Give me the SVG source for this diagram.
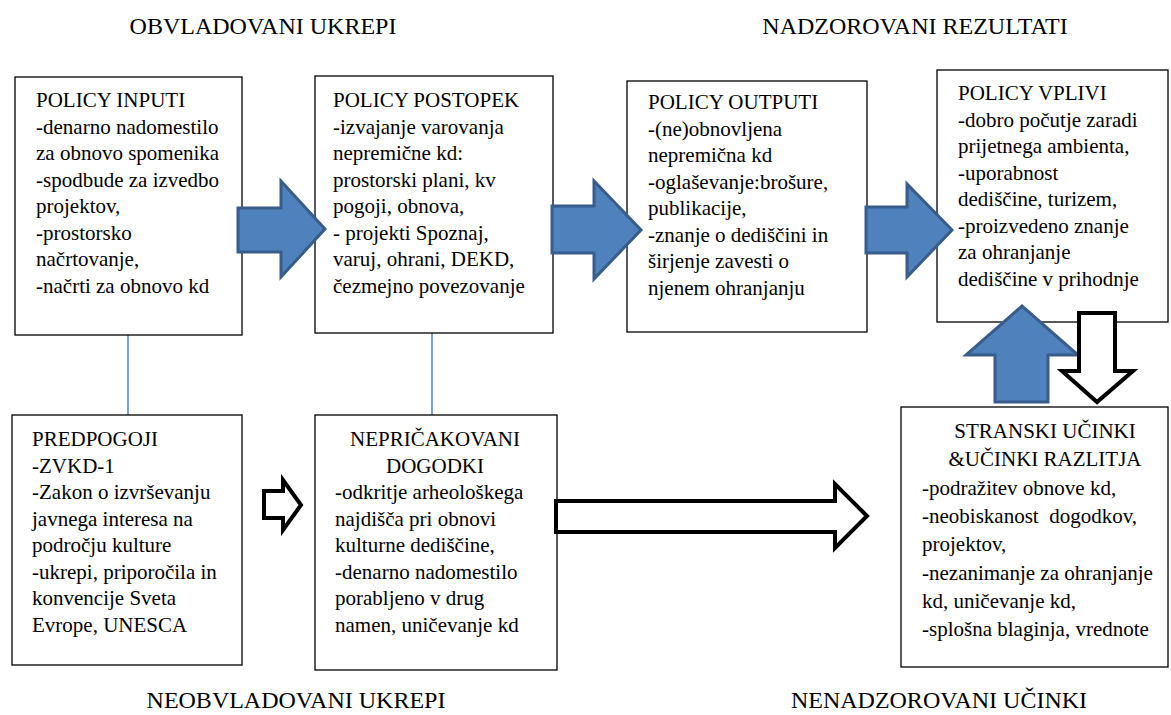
<svg xmlns="http://www.w3.org/2000/svg" width="1171" height="715" viewBox="0 0 1171 715">
<style>
.box{fill:#fff;stroke:#000;stroke-width:1.3}
.t{font-family:"Liberation Serif","Times New Roman",serif;font-size:21px;fill:#000}
.ttl{font-family:"Liberation Serif","Times New Roman",serif;font-size:24px;fill:#000;text-anchor:middle}
.blue{fill:#4F81BD;stroke:#385D8A;stroke-width:3;stroke-linejoin:miter}
.white{fill:#fff;stroke:#000;stroke-width:4;stroke-linejoin:miter}
.link{stroke:#4F81BD;stroke-width:1.5;fill:none}
.c{text-anchor:middle}
</style>
<rect width="1171" height="715" fill="#fff"/>
<g id="titles">
<text class="ttl" x="263" y="34">OBVLADOVANI UKREPI</text>
<text class="ttl" x="915" y="34">NADZOROVANI REZULTATI</text>
<text class="ttl" x="296" y="708">NEOBVLADOVANI UKREPI</text>
<text class="ttl" x="939" y="708">NENADZOROVANI UČINKI</text>
</g>
<g id="connectors">
<line class="link" x1="128" y1="307" x2="128" y2="415"/>
<line class="link" x1="432" y1="307" x2="432" y2="415"/>
</g>
<g id="inputi">
<rect class="box" x="15" y="77" width="227" height="258"/>
<text class="t" x="36" y="107">POLICY INPUTI<tspan x="36" dy="26.5">-denarno nadomestilo</tspan><tspan x="36" dy="26.5">za obnovo spomenika</tspan><tspan x="36" dy="26.5">-spodbude za izvedbo</tspan><tspan x="36" dy="26.5">projektov,</tspan><tspan x="36" dy="26.5">-prostorsko</tspan><tspan x="36" dy="26.5">načrtovanje,</tspan><tspan x="36" dy="26.5">-načrti za obnovo kd</tspan></text>
</g>
<g id="postopek">
<rect class="box" x="315" y="76" width="238" height="257"/>
<text class="t" x="333" y="107">POLICY POSTOPEK<tspan x="333" dy="26.5">-izvajanje varovanja</tspan><tspan x="333" dy="26.5">nepremične kd:</tspan><tspan x="333" dy="26.5">prostorski plani, kv</tspan><tspan x="333" dy="26.5">pogoji, obnova,</tspan><tspan x="333" dy="26.5">- projekti Spoznaj,</tspan><tspan x="333" dy="26.5">varuj, ohrani, DEKD,</tspan><tspan x="333" dy="26.5">čezmejno povezovanje</tspan></text>
</g>
<g id="outputi">
<rect class="box" x="627" y="81" width="240" height="251"/>
<text class="t" x="648" y="109">POLICY OUTPUTI<tspan x="648" dy="26.5">-(ne)obnovljena</tspan><tspan x="648" dy="26.5">nepremična kd</tspan><tspan x="648" dy="26.5">-oglaševanje:brošure,</tspan><tspan x="648" dy="26.5">publikacije,</tspan><tspan x="648" dy="26.5">-znanje o dediščini in</tspan><tspan x="648" dy="26.5">širjenje zavesti o</tspan><tspan x="648" dy="26.5">njenem ohranjanju</tspan></text>
</g>
<g id="vplivi">
<rect class="box" x="937" y="70" width="231" height="252"/>
<text class="t" x="958" y="100">POLICY VPLIVI<tspan x="958" dy="26.5">-dobro počutje zaradi</tspan><tspan x="958" dy="26.5">prijetnega ambienta,</tspan><tspan x="958" dy="26.5">-uporabnost</tspan><tspan x="958" dy="26.5">dediščine, turizem,</tspan><tspan x="958" dy="26.5">-proizvedeno znanje</tspan><tspan x="958" dy="26.5">za ohranjanje</tspan><tspan x="958" dy="26.5">dediščine v prihodnje</tspan></text>
</g>
<g id="predpogoji">
<rect class="box" x="12" y="415" width="230" height="250"/>
<text class="t" x="32" y="446">PREDPOGOJI<tspan x="32" dy="26.5">-ZVKD-1</tspan><tspan x="32" dy="26.5">-Zakon o izvrševanju</tspan><tspan x="32" dy="26.5">javnega interesa na</tspan><tspan x="32" dy="26.5">področju kulture</tspan><tspan x="32" dy="26.5">-ukrepi, priporočila in</tspan><tspan x="32" dy="26.5">konvencije Sveta</tspan><tspan x="32" dy="26.5">Evrope, UNESCA</tspan></text>
</g>
<g id="nepricakovani">
<rect class="box" x="315" y="415" width="242" height="255"/>
<text class="t" x="335" y="446"><tspan class="c" x="435">NEPRIČAKOVANI</tspan><tspan class="c" x="435" dy="26.5">DOGODKI</tspan><tspan x="335" dy="26.5">-odkritje arheološkega</tspan><tspan x="335" dy="26.5">najdišča pri obnovi</tspan><tspan x="335" dy="26.5">kulturne dediščine,</tspan><tspan x="335" dy="26.5">-denarno nadomestilo</tspan><tspan x="335" dy="26.5">porabljeno v drug</tspan><tspan x="335" dy="26.5">namen, uničevanje kd</tspan></text>
</g>
<g id="stranski">
<rect class="box" x="901" y="407" width="267" height="260"/>
<text class="t" x="922" y="438"><tspan class="c" x="1045">STRANSKI UČINKI</tspan><tspan class="c" x="1045" dy="28.3">&amp;UČINKI RAZLITJA</tspan><tspan x="922" dy="28.3">-podražitev obnove kd,</tspan><tspan x="922" dy="28.3">-neobiskanost&#160; dogodkov,</tspan><tspan x="922" dy="28.3">projektov,</tspan><tspan x="922" dy="28.3">-nezanimanje za ohranjanje</tspan><tspan x="922" dy="28.3">kd, uničevanje kd,</tspan><tspan x="922" dy="28.3">-splošna blaginja, vrednote</tspan></text>
</g>
<g id="arrows">
<polygon class="blue" points="238,208 281,208 281,181 325,229 281,277 281,252 238,252"/>
<polygon class="blue" points="552,206 594,206 594,181 641,230 594,279 594,253 552,253"/>
<polygon class="blue" points="866,207 907,207 907,184 952,230 907,277 907,253 866,253"/>
<polygon class="blue" points="995,402 995,355 966,355 1022,306 1078,355 1048,355 1048,402"/>
<polygon class="white" points="1079,313 1115,313 1115,371 1133,371 1097,402 1062,371 1079,371"/>
<polygon class="white" points="264,491 283,491 283,480 301,505 283,530 283,518 264,518"/>
<polygon class="white" points="556,501 835,501 835,484 867,516 835,548 835,532 556,532"/>
</g>
</svg>
